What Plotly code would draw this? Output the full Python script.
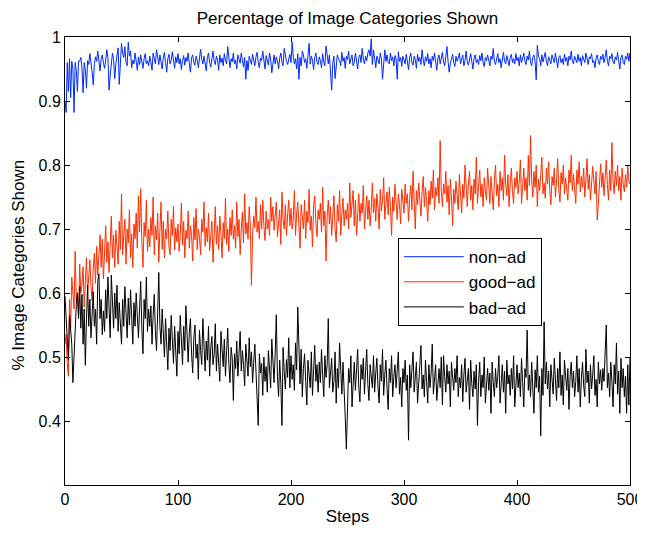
import plotly.graph_objects as go

# values, in thousandths (x1000), one per step 0..500
non_ad = [
    900, 882, 960, 915, 966, 905, 962, 950, 882, 960, 948, 915, 962, 962, 968, 952, 913, 960, 948, 920, 963, 957, 974, 962, 945,
    925, 958, 969, 962, 978, 955, 947, 966, 972, 960, 951, 964, 980, 968, 917, 940, 962, 975, 966, 935, 958, 972, 983, 926, 952,
    990, 975, 968, 985, 960, 955, 992, 970, 978, 952, 964, 958, 975, 962, 948, 969, 957, 972, 960, 951, 966, 974, 958, 963, 955,
    970, 961, 948, 975, 966, 958, 980, 969, 957, 972, 963, 950, 968, 976, 960, 945, 966, 973, 958, 964, 977, 962, 951, 969, 960,
    974, 958, 966, 949, 963, 971, 956, 968, 962, 975, 959, 945, 968, 972, 960, 956, 970, 964, 952, 967, 981, 965, 958, 970, 961,
    947, 968, 975, 960, 953, 966, 978, 962, 957, 970, 964, 948, 972, 960, 967, 955, 974, 963, 958, 985, 969, 952, 966, 961, 975,
    958, 964, 950, 972, 966, 959, 975, 961, 953, 968, 934, 963, 948, 970, 965, 957, 973, 961, 955, 969, 976, 960, 952, 967, 963,
    978, 960, 950, 971, 964, 956, 975, 966, 944, 962, 972, 958, 969, 963, 950, 967, 975, 960, 955, 982, 970, 962, 957, 968, 973,
    960, 992, 970, 958, 966, 950, 974, 934, 968, 955, 978, 972, 960, 966, 951, 976, 990, 958, 970, 964, 949, 968, 975, 960, 957,
    969, 963, 952, 974, 961, 955, 986, 967, 958, 972, 945, 917, 960, 970, 935, 958, 972, 966, 963, 955, 976, 962, 968, 951, 970,
    965, 978, 958, 966, 972, 955, 961, 975, 963, 950, 968, 972, 960, 982, 966, 958, 970, 963, 975, 980, 970, 997, 957, 980, 966,
    952, 970, 964, 958, 975, 966, 934, 968, 980, 962, 972, 960, 958, 975, 963, 969, 955, 971, 966, 934, 977, 962, 968, 954, 970,
    964, 958, 973, 962, 949, 968, 975, 960, 956, 970, 965, 951, 973, 962, 968, 957, 980, 964, 955, 969, 962, 974, 958, 966, 952,
    970, 963, 975, 960, 948, 967, 972, 958, 966, 976, 961, 955, 969, 985, 962, 945, 958, 965, 973, 960, 954, 970, 962, 967, 975,
    958, 966, 972, 955, 963, 978, 961, 956, 969, 974, 962, 950, 967, 972, 960, 965, 957, 971, 963, 975, 960, 954, 968, 963, 972,
    961, 955, 970, 965, 982, 962, 957, 968, 974, 960, 966, 952, 969, 976, 962, 958, 971, 964, 955, 968, 973, 960, 966, 958, 974,
    963, 968, 955, 972, 960, 966, 975, 962, 957, 970, 964, 978, 960, 955, 968, 972, 962, 933, 987, 970, 966, 955, 972, 961, 968,
    976, 962, 955, 969, 964, 958, 972, 966, 960, 975, 963, 952, 968, 971, 960, 966, 957, 973, 962, 968, 955, 970, 964, 978, 962,
    958, 970, 965, 960, 973, 962, 968, 955, 971, 964, 960, 975, 962, 957, 969, 966, 974, 960, 963, 952, 968, 972, 961, 957, 970,
    965, 973, 960, 968, 980, 962, 955, 970, 966, 974, 961, 958, 969, 964, 976, 962, 950, 968, 972, 960, 957, 970, 965, 975, 962,
    975,
]

good_ad = [
    520, 535, 490, 470, 590, 545, 625, 600, 575, 665, 588, 601, 563, 645, 600, 612, 641, 578, 620, 655, 598, 634, 652, 611, 588,
    640, 662, 615, 673, 628, 658, 691, 640, 684, 622, 667, 705, 648, 680, 632, 671, 720, 655, 690, 640, 698, 672, 645, 712, 668,
    755, 660, 690, 715, 645, 700, 678, 730, 655, 692, 640, 708, 685, 725, 670, 752, 695, 763, 680, 640, 710, 688, 745, 665, 700,
    672, 718, 690, 750, 660, 705, 683, 725, 648, 698, 742, 668, 712, 655, 700, 685, 728, 672, 660, 715, 690, 735, 667, 702, 680,
    708, 665, 690, 740, 675, 712, 655, 698, 685, 728, 670, 705, 690, 650, 718, 683, 732, 668, 700, 688, 660, 715, 695, 742, 673,
    702, 680, 725, 666, 698, 712, 648, 690, 735, 676, 705, 668, 720, 692, 655, 710, 685, 748, 676, 700, 665, 718, 690, 730, 684,
    705, 670, 742, 688, 715, 660, 700, 726, 678, 755, 692, 710, 684, 735, 705, 612, 690, 720, 702, 750, 695, 712, 685, 738, 700,
    745, 705, 682, 728, 700, 715, 690, 750, 712, 735, 698, 720, 742, 688, 705, 730, 676, 758, 715, 700, 738, 690, 722, 745, 705,
    732, 700, 715, 760, 690, 725, 742, 705, 670, 738, 718, 700, 745, 685, 728, 710, 762, 698, 720, 672, 735, 752, 710, 688, 730,
    715, 740, 695, 765, 705, 728, 650, 720, 745, 708, 735, 690, 722, 752, 700, 680, 738, 712, 760, 690, 725, 748, 705, 730, 715,
    740, 700, 772, 718, 735, 760, 705, 745, 690, 730, 755, 712, 740, 725, 768, 700, 738, 752, 715, 745, 705, 730, 772, 725, 748,
    712, 755, 735, 700, 762, 728, 745, 780, 715, 740, 758, 722, 765, 735, 690, 750, 728, 770, 742, 715, 755, 738, 708, 762, 745,
    725, 770, 740, 755, 712, 748, 768, 730, 790, 745, 700, 760, 738, 772, 748, 720, 758, 782, 735, 765, 745, 712, 760, 738, 775,
    748, 792, 730, 765, 752, 780, 740, 838, 760, 735, 770, 755, 790, 742, 768, 722, 778, 750, 705, 762, 740, 775, 752, 730, 785,
    760, 725, 770, 748, 800, 755, 735, 772, 790, 745, 768, 730, 778, 755, 812, 740, 765, 792, 750, 770, 735, 780, 760, 745, 795,
    765, 740, 782, 758, 730, 775, 800, 752, 770, 735, 790, 760, 780, 745, 815, 770, 752, 785, 735, 772, 795, 758, 740, 780, 765,
    790, 755, 775, 808, 740, 770, 795, 760, 780, 745, 815, 768, 846, 775, 750, 790, 765, 800, 735, 778, 760, 785, 812, 755, 772,
    748, 795, 770, 805, 760, 738, 782, 768, 795, 750, 775, 810, 762, 742, 788, 770, 800, 755, 780, 765, 745, 792, 772, 815, 760,
    785, 768, 740, 792, 770, 805, 758, 782, 765, 795, 750, 778, 810, 762, 785, 745, 770, 798, 775, 755, 790, 714, 740, 780, 802,
    765, 788, 752, 778, 808, 770, 745, 792, 760, 835, 775, 755, 790, 768, 800, 760, 782, 745, 795, 770, 758, 785, 765, 800, 775,
    770,
]

bad_ad = [
    595, 555, 530, 495, 565, 540, 520, 460, 505, 540, 582, 600, 560, 610, 545, 598, 520, 575, 487, 560, 612, 548, 590, 530, 580,
    602, 548, 575, 520, 618, 630, 560, 590, 535, 572, 540, 605, 560, 625, 580, 530, 628, 575, 545, 600, 560, 612, 540, 585, 555,
    520, 590, 548, 610, 565, 530, 592, 550, 605, 572, 520, 585, 548, 600, 560, 530, 575, 618, 545, 505, 590, 560, 625, 540, 575,
    548, 580, 520, 565, 598, 540, 510, 570, 632, 548, 520, 575, 540, 500, 560, 525, 480, 545, 510, 565, 530, 490, 548, 512, 470,
    540, 505, 565, 520, 488, 548, 510, 580, 525, 492, 538, 560, 505, 475, 530, 550, 498, 520, 465, 542, 510, 488, 560, 500, 478,
    525, 495, 548, 470, 515, 532, 488, 505, 552, 478, 520, 495, 462, 540, 508, 485, 528, 470, 510, 545, 490, 460, 515, 498, 432,
    505, 482, 525, 470, 498, 540, 478, 510, 488, 455, 520, 495, 470, 530, 485, 508, 460, 492, 520, 478, 440, 393, 505, 475, 490,
    440, 500, 462, 485, 445, 510, 472, 452, 528, 488, 460, 505, 566, 470, 438, 495, 458, 393, 515, 478, 450, 496, 468, 530, 452,
    502, 465, 488, 448, 522, 480, 578, 492, 458, 512, 438, 482, 505, 462, 425, 495, 472, 452, 508, 440, 480, 518, 462, 488, 445,
    492, 460, 512, 472, 438, 502, 468, 488, 560, 452, 480, 498, 445, 462, 508, 428, 482, 452, 522, 470, 442, 492, 458, 405, 356,
    438, 482, 460, 502, 422, 470, 492, 448, 478, 512, 452, 430, 488, 465, 498, 442, 478, 512, 458, 432, 488, 470, 452, 502, 445,
    475, 498, 452, 428, 488, 462, 512, 440, 472, 495, 450, 418, 482, 460, 502, 438, 470, 488, 452, 480, 508, 442, 468, 422, 482,
    460, 495, 448, 472, 370, 488, 452, 478, 508, 445, 470, 492, 428, 460, 482, 518, 450, 472, 438, 495, 462, 428, 488, 452, 475,
    520, 442, 470, 488, 432, 460, 482, 452, 500, 425, 502, 470, 445, 488, 458, 478, 422, 492, 465, 448, 482, 460, 502, 438, 468,
    452, 488, 430, 472, 498, 445, 462, 482, 418, 495, 458, 438, 478, 450, 488, 393, 462, 492, 438, 472, 452, 500, 428, 465, 482,
    448, 475, 412, 492, 460, 438, 482, 452, 470, 502, 428, 462, 488, 445, 478, 412, 495, 458, 472, 440, 482, 450, 502, 422, 468,
    488, 452, 475, 438, 498, 460, 422, 482, 468, 542, 448, 472, 438, 492, 458, 412, 480, 452, 502, 445, 470, 377, 482, 440, 555,
    458, 492, 450, 478, 422, 488, 462, 442, 498, 468, 432, 482, 452, 508, 440, 472, 425, 495, 460, 448, 482, 418, 470, 492, 452,
    478, 438, 462, 502, 445, 482, 422, 468, 492, 455, 438, 512, 460, 478, 428, 488, 450, 472, 502, 440, 465, 422, 492, 458, 480,
    448, 482, 462, 502, 550, 452, 475, 438, 492, 462, 422, 488, 458, 522, 442, 478, 412, 498, 452, 482, 438, 470, 412, 488, 425,
    500,
]

steps = list(range(len(non_ad)))
y_ticks = [0.4, 0.5, 0.6, 0.7, 0.8, 0.9, 1.0]
y_labels = ["0.4", "0.5", "0.6", "0.7", "0.8", "0.9", "1"]
x_ticks = [0, 100, 200, 300, 400, 500]

FONT = "Liberation Sans, Arial, Helvetica, sans-serif"
TXT = dict(size=17, color="black", family=FONT)

fig = go.Figure()
fig.add_trace(go.Scatter(x=steps, y=[v / 1000 for v in non_ad], mode="lines", name="non\u2212ad",
                         line=dict(color="rgb(0,40,255)", width=1)))
fig.add_trace(go.Scatter(x=steps, y=[v / 1000 for v in good_ad], mode="lines", name="good\u2212ad",
                         line=dict(color="rgb(255,45,0)", width=1)))
fig.add_trace(go.Scatter(x=steps, y=[v / 1000 for v in bad_ad], mode="lines", name="bad\u2212ad",
                         line=dict(color="black", width=1)))

axis_style = dict(showline=True, linecolor="black", linewidth=1, mirror="ticks", ticks="inside",
                  ticklen=5, tickcolor="black", showgrid=False, zeroline=False, automargin=False,
                  ticklabeloverflow="allow",
                  tickfont=dict(size=16, color="black", family=FONT))

fig.update_xaxes(range=[0, 500], tickvals=x_ticks,
                 title=dict(text="Steps", font=TXT, standoff=2), **axis_style)
fig.update_yaxes(range=[0.3, 1.0], tickvals=y_ticks, ticktext=y_labels, **axis_style)

# y title as an annotation so it can sit closer to the page edge
fig.add_annotation(text="% Image Categories Shown", xref="paper", yref="paper", x=-0.083, y=0.49,
                   xanchor="center", yanchor="middle", textangle=-90, showarrow=False, font=TXT)

# the page puts the figure 8px in from the top-left, so the figure is kept inside the window
fig.update_layout(
    width=637, height=518,
    margin=dict(l=57, r=15, t=29, b=41),
    paper_bgcolor="white", plot_bgcolor="white",
    title=dict(text="Percentage of Image Categories Shown", x=0.5, xref="paper", xanchor="center",
               y=0.992, yanchor="top", font=TXT),
    legend=dict(x=0.589, y=0.551, xanchor="left", yanchor="top", bgcolor="white",
                bordercolor="black", borderwidth=1, tracegroupgap=0, itemwidth=60, font=TXT),
    font=dict(family=FONT),
)

fig.write_html("out.html")
